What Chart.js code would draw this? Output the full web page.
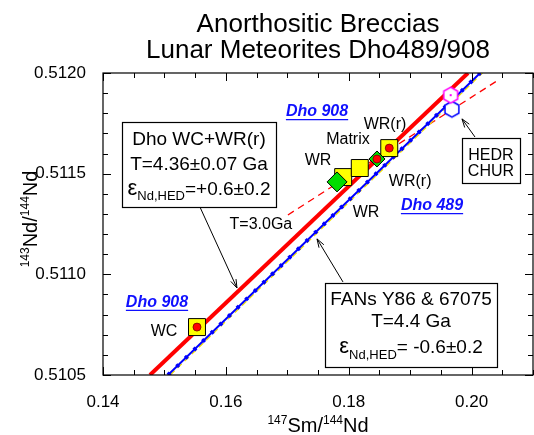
<!DOCTYPE html>
<html>
<head>
<meta charset="utf-8">
<script src="https://cdn.jsdelivr.net/npm/chart.js@4"></script>
<style>
  html, body { margin: 0; padding: 0; background: #fff; }
</style>
</head>
<body>
<canvas id="isoChart" width="534" height="435"></canvas>
<script>
const FONT = '"Liberation Sans", Arial, Helvetica, sans-serif';

// tick labels
const xTicks = [0.14, 0.16, 0.18, 0.20];
const yTicks = [0.5105, 0.5110, 0.5115, 0.5120];

// Dho 908 (yellow squares): WC, WR, Matrix, WR(r)
const dho908Sm = [0.1553, 0.1791, 0.1818, 0.1866];
const dho908Nd = [0.510738, 0.511483, 0.511528, 0.511627];

// Dho 489 (green diamonds): WR, WR(r)
const dho489Sm = [0.1781, 0.1846];
const dho489Nd = [0.511459, 0.511573];

// residues (red dots): WC, WR(r) 489, WR(r) 908
const residueSm = [0.1553, 0.1846, 0.1866];
const residueNd = [0.510738, 0.511573, 0.511627];

// reservoirs
const hedrSm = [0.1966];
const hedrNd = [0.51189];
const churSm = [0.1968];
const churNd = [0.51182];

// reference lines (end points)
const dhoIsoSm = [0.14765, 0.19942];
const dhoIsoNd = [0.5105, 0.5120];
const fanIsoSm = [0.15058, 0.20140];
const fanIsoNd = [0.5105, 0.5120];
const fanAltSm = [0.15095, 0.20177];
const fanAltNd = [0.5105, 0.5120];
const t30Sm = [0.1701, 0.2046];
const t30Nd = [0.511295, 0.51197];

function pts(xs, ys) {
    return xs.map((x, i) => ({ x: x, y: ys[i] }));
}

function hexImage(stroke, dot) {
    const c = document.createElement('canvas');
    c.width = 20;
    c.height = 20;
    const g = c.getContext('2d');
    g.beginPath();
    for (let i = 0; i < 6; i++) {
        const a = -Math.PI / 2 + i * Math.PI / 3;
        const px = 10 + 8 * Math.cos(a), py = 10 + 8 * Math.sin(a);
        if (i) g.lineTo(px, py); else g.moveTo(px, py);
    }
    g.closePath();
    g.fillStyle = '#fff';
    g.fill();
    g.strokeStyle = stroke;
    g.lineWidth = 1.5;
    g.stroke();
    if (dot) {
        g.fillStyle = stroke;
        g.fillRect(9, 9, 2, 2);
    }
    return c;
}

function richText(ctx, x, y, parts) {
    // parts: [text, size, dy]
    let w = 0;
    parts.forEach(p => { ctx.font = p[1] + 'px ' + FONT; w += ctx.measureText(p[0]).width; });
    let cx = x - w / 2;
    ctx.textAlign = 'left';
    ctx.textBaseline = 'alphabetic';
    parts.forEach(p => {
        ctx.font = p[1] + 'px ' + FONT;
        ctx.fillText(p[0], cx, y + (p[2] || 0));
        cx += ctx.measureText(p[0]).width;
    });
}

function arrow(ctx, x1, y1, x2, y2) {
    const a = Math.atan2(y2 - y1, x2 - x1);
    ctx.beginPath();
    ctx.moveTo(x1, y1);
    ctx.lineTo(x2, y2);
    ctx.moveTo(x2 - 9 * Math.cos(a - 0.32), y2 - 9 * Math.sin(a - 0.32));
    ctx.lineTo(x2, y2);
    ctx.lineTo(x2 - 9 * Math.cos(a + 0.32), y2 - 9 * Math.sin(a + 0.32));
    ctx.stroke();
}

// text boxes: corners in data units, line baselines in px below the top
const boxes = [
    { x1: 0.14309, x2: 0.16816, y1: 0.511757, y2: 0.511334, lines: [
        [23, [['Dho WC+WR(r)', 19]]],
        [48, [['T=4.36±0.07 Ga', 19]]],
        [73, [['ε', 22], ['Nd,HED', 13, 5], ['=+0.6±0.2', 19]]]
    ] },
    { x1: 0.17614, x2: 0.20414, y1: 0.510957, y2: 0.510540, lines: [
        [22, [['FANs Y86 & 67075', 19]]],
        [44, [['T=4.4 Ga', 19]]],
        [70, [['ε', 22], ['Nd,HED', 13, 6], ['= -0.6±0.2', 19]]]
    ] },
    { x1: 0.19844, x2: 0.20788, y1: 0.511677, y2: 0.511454, lines: [
        [22, [['HEDR', 16]]],
        [38, [['CHUR', 16]]]
    ] }
];

const arrows = [
    [0.15579, 0.511334, 0.16181, 0.510932],
    [0.17907, 0.510962, 0.17484, 0.511176],
    [0.20056, 0.511682, 0.19844, 0.511772]
];

const labels = [
    ['WR(r)', 0.18591, 0.511742],
    ['Matrix', 0.17988, 0.511667],
    ['WR', 0.17500, 0.511563],
    ['WR(r)', 0.19000, 0.511459],
    ['WR', 0.18281, 0.511305],
    ['T=3.0Ga', 0.16570, 0.511245],
    ['WC', 0.14993, 0.510714]
];

const blueLabels = [
    ['Dho 908', 0.17484, 0.511806],
    ['Dho 489', 0.19356, 0.511339],
    ['Dho 908', 0.14879, 0.510858]
];

const notes = {
    id: 'notes',
    afterDatasetsDraw(chart) {
        const ctx = chart.ctx;
        const a = chart.chartArea;
        const x = chart.scales.x, y = chart.scales.y;
        ctx.save();
        ctx.strokeStyle = '#000';
        ctx.fillStyle = '#000';

        // frame + inward ticks on all sides
        ctx.lineWidth = 1.2;
        ctx.strokeRect(a.left, a.top, a.right - a.left, a.bottom - a.top);
        ctx.lineWidth = 1;
        ctx.beginPath();
        for (let i = 0; i <= 14; i++) {
            const px = Math.round(x.getPixelForValue(0.14 + i * 0.005)) + 0.5;
            const len = i % 4 === 0 ? 8 : 5;
            ctx.moveTo(px, a.bottom); ctx.lineTo(px, a.bottom - len);
            ctx.moveTo(px, a.top); ctx.lineTo(px, a.top + len);
        }
        for (let i = 0; i <= 15; i++) {
            const py = Math.round(y.getPixelForValue(0.5105 + i * 0.0001)) + 0.5;
            const len = i % 5 === 0 ? 8 : 5;
            ctx.moveTo(a.left, py); ctx.lineTo(a.left + len, py);
            ctx.moveTo(a.right, py); ctx.lineTo(a.right - len, py);
        }
        ctx.stroke();

        // arrows
        ctx.lineWidth = 1;
        arrows.forEach(r => arrow(ctx, x.getPixelForValue(r[0]), y.getPixelForValue(r[1]),
            x.getPixelForValue(r[2]), y.getPixelForValue(r[3])));

        // boxes
        boxes.forEach(b => {
            const l = x.getPixelForValue(b.x1), r = x.getPixelForValue(b.x2);
            const t = y.getPixelForValue(b.y1), btm = y.getPixelForValue(b.y2);
            ctx.fillStyle = '#fff';
            ctx.fillRect(l, t, r - l, btm - t);
            ctx.lineWidth = 1.2;
            ctx.strokeRect(Math.round(l) + 0.5, Math.round(t) + 0.5, Math.round(r - l), Math.round(btm - t));
            ctx.fillStyle = '#000';
            b.lines.forEach(ln => richText(ctx, (l + r) / 2, t + ln[0], ln[1]));
        });

        // point labels
        ctx.font = '16px ' + FONT;
        ctx.textAlign = 'center';
        ctx.textBaseline = 'middle';
        labels.forEach(s => ctx.fillText(s[0], x.getPixelForValue(s[1]), y.getPixelForValue(s[2])));

        ctx.font = 'italic bold 16px ' + FONT;
        ctx.fillStyle = '#1010ff';
        ctx.strokeStyle = '#1010ff';
        blueLabels.forEach(s => {
            const px = x.getPixelForValue(s[1]), py = y.getPixelForValue(s[2]);
            ctx.fillText(s[0], px, py);
            const w = ctx.measureText(s[0]).width;
            ctx.beginPath();
            ctx.moveTo(px - w / 2, py + 7.5);
            ctx.lineTo(px + w / 2, py + 7.5);
            ctx.stroke();
        });

        // axis titles
        ctx.fillStyle = '#000';
        richText(ctx, (a.left + a.right) / 2, 432, [['147', 12, -8], ['Sm/', 20], ['144', 12, -8], ['Nd', 20]]);
        ctx.save();
        ctx.translate(37, (a.top + a.bottom) / 2 - 5);
        ctx.rotate(-Math.PI / 2);
        richText(ctx, 0, 0, [['143', 12, -8], ['Nd/', 20], ['144', 12, -8], ['Nd', 20]]);
        ctx.restore();

        ctx.restore();
    }
};

const ctx = document.getElementById('isoChart').getContext('2d');

const chart = new Chart(ctx, {
    type: 'scatter',
    data: {
        datasets: [
            {
                label: 'T=3.0Ga',
                data: pts(t30Sm, t30Nd),
                showLine: true,
                borderColor: '#ff0000',
                borderWidth: 1.3,
                borderDash: [7, 5],
                pointRadius: 0,
                order: 20
            },
            {
                label: 'FANs (yellow)',
                data: pts(fanAltSm, fanAltNd),
                showLine: true,
                borderColor: '#f0e000',
                borderWidth: 1.3,
                borderDash: [6, 4],
                pointRadius: 0,
                order: 19
            },
            {
                label: 'FANs T=4.4 Ga',
                data: pts(fanIsoSm, fanIsoNd),
                showLine: true,
                borderColor: '#0000ff',
                borderWidth: 2,
                pointRadius: 0,
                order: 18
            },
            {
                label: 'FANs dashes',
                data: pts(fanIsoSm, fanIsoNd),
                showLine: true,
                borderColor: '#0000ff',
                borderWidth: 4,
                borderDash: [3, 9],
                pointRadius: 0,
                order: 17
            },
            {
                label: 'Dho WC+WR(r)',
                data: pts(dhoIsoSm, dhoIsoNd),
                showLine: true,
                borderColor: '#ff0000',
                borderWidth: 4,
                pointRadius: 0,
                order: 16
            },
            {
                label: 'Dho 908',
                data: pts(dho908Sm, dho908Nd),
                pointStyle: 'rect',
                pointRadius: 12,
                backgroundColor: '#ffff00',
                borderColor: '#000',
                borderWidth: 1,
                order: 10
            },
            {
                label: 'Dho 489',
                data: pts(dho489Sm, dho489Nd),
                pointStyle: 'rectRot',
                pointRadius: [10, 8],
                backgroundColor: '#00dd00',
                borderColor: '#000',
                borderWidth: 1,
                order: 9
            },
            {
                label: 'Residues',
                data: pts(residueSm, residueNd),
                pointStyle: 'circle',
                pointRadius: 4,
                backgroundColor: '#ff0000',
                borderColor: '#700000',
                borderWidth: 0.8,
                order: 8
            },
            {
                label: 'CHUR',
                data: pts(churSm, churNd),
                pointStyle: hexImage('#0000ff', false),
                order: 7
            },
            {
                label: 'HEDR',
                data: pts(hedrSm, hedrNd),
                pointStyle: hexImage('#ff00ff', true),
                order: 6
            }
        ]
    },
    options: {
        responsive: false,
        animation: false,
        events: [],
        layout: {
            autoPadding: false,
            padding: { top: 0, left: 0, right: 1, bottom: 0 }
        },
        plugins: {
            legend: { display: false },
            tooltip: { enabled: false },
            title: {
                display: true,
                fullSize: false,
                text: ['Anorthositic Breccias', 'Lunar Meteorites Dho489/908'],
                color: '#000',
                font: { family: FONT, size: 26, weight: 'normal', lineHeight: 1.0 },
                padding: { top: 12, bottom: 9 }
            }
        },
        scales: {
            x: {
                type: 'linear',
                min: 0.14,
                max: 0.21,
                afterBuildTicks: s => { s.ticks = xTicks.map(v => ({ value: v })); },
                afterFit: s => { s.height = 60; s.paddingLeft = 0; s.paddingRight = 0; },
                grid: { display: false },
                border: { display: false },
                ticks: {
                    color: '#000',
                    font: { family: FONT, size: 17 },
                    padding: 9,
                    maxRotation: 0,
                    callback: v => v.toFixed(2)
                }
            },
            y: {
                type: 'linear',
                min: 0.5105,
                max: 0.5120,
                afterBuildTicks: s => { s.ticks = yTicks.map(v => ({ value: v })); },
                afterFit: s => { s.width = 103; s.paddingTop = 0; s.paddingBottom = 0; },
                grid: { display: false },
                border: { display: false },
                ticks: {
                    color: '#000',
                    font: { family: FONT, size: 17 },
                    padding: 9,
                    callback: v => v.toFixed(4)
                }
            }
        }
    },
    plugins: [notes]
});
</script>
</body>
</html>
